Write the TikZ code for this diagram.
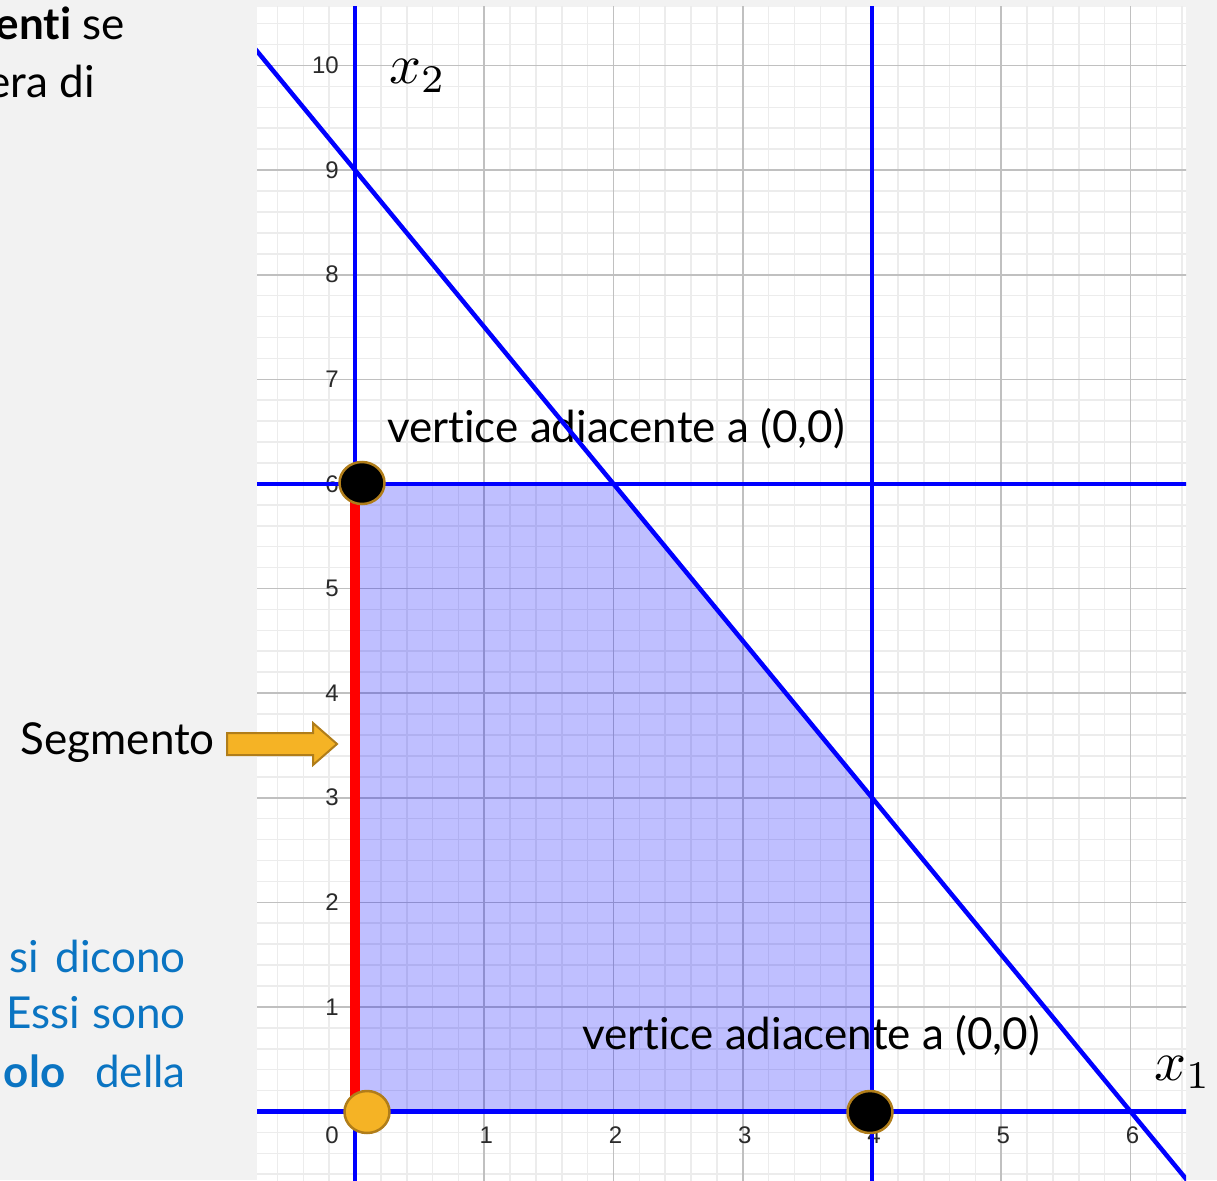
\documentclass[tikz,border=0pt]{standalone}
\usepackage{fontspec}
\usepackage{graphicx}
\setmainfont{Lato}[Ligatures={NoCommon}]
\newfontfamily\axisfont{Liberation Sans}
\usetikzlibrary{shapes.geometric}
\definecolor{bgGray}{HTML}{F2F2F2}
\definecolor{minorGrid}{HTML}{ECECEC}
\definecolor{majorGrid}{HTML}{C0C0C0}
\definecolor{lineBlue}{HTML}{0000FF}
\definecolor{txtBlue}{HTML}{0A74C2}
\definecolor{goldFill}{HTML}{F5B325}
\definecolor{goldEdge}{HTML}{B07D1A}
\definecolor{numGray}{HTML}{2A2A2A}
\tikzset{
  constraint/.style={lineBlue, line width=4.5pt},
  ticklab/.style={font=\axisfont\fontsize{24}{24}\selectfont, text=numGray, inner sep=0pt},
  biglab/.style={font=\fontsize{44}{48}\selectfont, inner sep=0pt},
  vertexdot/.style={ellipse, draw=goldEdge, line width=2.5pt, fill=black, minimum width=45pt, minimum height=42pt, inner sep=0pt},
  origindot/.style={vertexdot, fill=goldFill},
}
\begin{document}
\begin{tikzpicture}[x=1pt,y=-1pt]
\fill[bgGray] (0,0) rectangle (1217,1180);
\useasboundingbox (0,0) rectangle (1217,1180);
\fill[white] (257,7) rectangle (1186,1180);
\begin{scope}
\clip (257,7) rectangle (1186,1180);
% graph part 1
\begin{scope}[shift={(355,1111.5)}, x=129.25pt, y=104.6pt]
  \draw[minorGrid, line width=1.6pt, step=0.2] (-1,-1) grid (7,11);
  \draw[majorGrid, line width=1.6pt, step=1] (-1,-1) grid (7,11);
  \fill[lineBlue, fill opacity=0.25] (0,0) -- (4,0) -- (4,3) -- (2,6) -- (0,6) -- cycle;
  \foreach \i in {1,...,6} \node[ticklab] (xl\i) at ([xshift=2pt,yshift=-24pt]\i,0) {\i};
  \foreach \j in {1,...,10} \node[ticklab, anchor=east] (yl\j) at ([xshift=-16pt]0,\j) {\j};
  \node[ticklab] (ol) at ([xshift=-23pt,yshift=-24pt]0,0) {0};
\end{scope}
% labels in pixel coordinates
\node[biglab, anchor=base west] (va1) at (387,442) {vertice adiacente a (0,0)};
\node[biglab, anchor=base west] (va2) at (582,1049) {vertice adiacente a (0,0)};
\node[inner sep=0pt, anchor=base west] (x2l) at (389,84) {\scalebox{5.6}{$x_2$}};
% graph part 2
\begin{scope}[shift={(355,1111.5)}, x=129.25pt, y=104.6pt]
  \draw[constraint] (0,-1) -- (0,11);
  \draw[constraint] (4,-1) -- (4,11);
  \draw[constraint] (-1,6) -- (7,6);
  \draw[constraint] (-1,0) -- (7,0);
  \draw[constraint] (-1,10.5) -- (7,-1.5);
  \draw[red, line width=10pt] (0,0) -- (0,6);
\end{scope}
\end{scope}
\node[inner sep=0pt, anchor=base west] (x1l) at (1154,1080) {\scalebox{5.6}{$x_1$}};
% vertices
\node[vertexdot] (vtop) at (362,483) {};
\node[vertexdot] (vright) at (870,1112) {};
\node[origindot] (vorig) at (367,1112) {};
% left side texts
\node[biglab, anchor=base east] (t1) at (125,40) {\textbf{enti} se};
\node[biglab, anchor=base east] (t2) at (95,98) {era di};
\node[biglab, anchor=base east, text=txtBlue] (b1) at (186,972) {si\hspace{16pt}dicono};
\node[biglab, anchor=base east, text=txtBlue] (b2) at (186,1028) {Essi\hspace{12pt}sono};
\node[biglab, anchor=base east, text=txtBlue] (b3) at (186,1087) {\textbf{olo}\hspace{30pt}della};
\node[biglab, anchor=base east] (seg) at (215,754) {Segmento};
% block arrow
\draw[fill=goldFill, draw=goldEdge, line width=2pt, line join=miter]
  (227,733) -- (313,733) -- (313,723) -- (337,744) -- (313,765) -- (313,755) -- (227,755) -- cycle;
\end{tikzpicture}
\end{document}
